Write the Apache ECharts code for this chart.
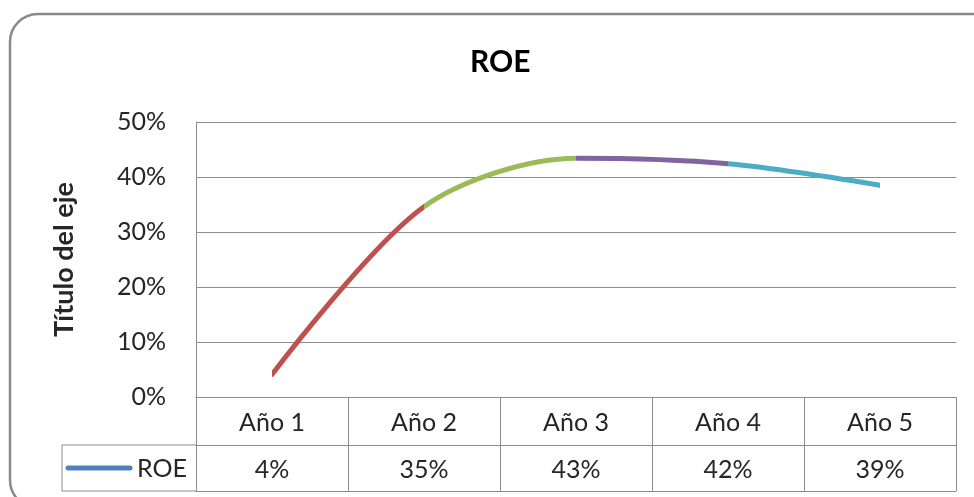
<!DOCTYPE html>
<html>
<head>
<meta charset="utf-8">
<title>ROE</title>
<script src="https://cdn.jsdelivr.net/npm/echarts@6/dist/echarts.min.js"></script>
<style>
  html, body { margin: 0; padding: 0; background: #ffffff; }
  #chart { width: 974px; height: 497px; }
</style>
</head>
<body>
<div id="chart"></div>
<script>
// Years shown along the horizontal axis / table header
const years = ['Año 1', 'Año 2', 'Año 3', 'Año 4', 'Año 5'];
// Return on equity per year, in percent
const roe = [4.1, 34.6, 43.4, 42.4, 38.5];
// Vertical axis ticks, in percent
const yTicks = [0, 10, 20, 30, 40, 50];
// Segment colours between consecutive years
const segmentColors = ['#C0504D', '#9BBB59', '#8064A2', '#4BACC6'];
const seriesName = 'ROE';
const legendColor = '#4F81BD';

const FONT = 'Lato, "Open Sans", sans-serif';
const GRID = { left: 196, right: 18, top: 122, bottom: 100 };
const ROW_H = 48;          // height of the header row of the data table
const TABLE_H = 94;        // total height of the data table
const LEGEND_CELL_X = 62;  // left edge of the series-name cell
const W = 974, H = 497;
const gridColor = '#8c8c8c';
const textColor = '#262626';

const chart = echarts.init(document.getElementById('chart'), null, { renderer: 'canvas' });

const axisBottom = H - GRID.bottom;
const rowY = axisBottom + ROW_H;
const tableBottom = axisBottom + TABLE_H;

const option = {
  animation: false,
  backgroundColor: '#ffffff',
  title: {
    text: seriesName,
    left: 470,
    top: 47,
    padding: 0,
    textStyle: { fontFamily: FONT, fontSize: 30, fontWeight: 'bold', color: '#000000' }
  },
  grid: GRID,
  visualMap: {
    type: 'piecewise',
    show: false,
    dimension: 0,
    seriesIndex: 0,
    pieces: segmentColors.map((c, i) => (
      i === segmentColors.length - 1
        ? { gte: i, lte: i + 1, color: c }
        : { gte: i, lt: i + 1, color: c }
    ))
  },
  xAxis: [
    {
      type: 'category',
      data: years,
      boundaryGap: true,
      axisLine: { show: true, lineStyle: { color: gridColor, width: 1 } },
      axisTick: { show: true, interval: 0, length: TABLE_H, lineStyle: { color: gridColor, width: 1 } },
      axisLabel: {
        interval: 0, margin: 26, verticalAlign: 'middle',
        fontFamily: FONT, fontSize: 25, color: textColor
      },
      splitLine: { show: false }
    },
    {
      type: 'category',
      data: years,
      position: 'bottom',
      offset: ROW_H,
      boundaryGap: true,
      axisLine: { show: true, lineStyle: { color: gridColor, width: 1 } },
      axisTick: { show: false },
      axisLabel: {
        interval: 0, margin: 25, verticalAlign: 'middle',
        fontFamily: FONT, fontSize: 25, color: textColor,
        formatter: (v, i) => Math.round(roe[i]) + '%'
      }
    },
    {
      type: 'category',
      data: years,
      position: 'bottom',
      offset: TABLE_H,
      boundaryGap: true,
      axisLine: { show: true, lineStyle: { color: gridColor, width: 1 } },
      axisTick: { show: false },
      axisLabel: { show: false }
    }
  ],
  yAxis: {
    type: 'value',
    min: yTicks[0],
    max: yTicks[yTicks.length - 1],
    interval: yTicks[1] - yTicks[0],
    name: 'Título del eje',
    nameLocation: 'middle',
    nameRotate: 90,
    nameGap: 118,
    nameTextStyle: { fontFamily: FONT, fontSize: 27, fontWeight: 'bold', color: textColor },
    axisLine: { show: true, lineStyle: { color: gridColor, width: 1 } },
    axisTick: { show: false },
    axisLabel: {
      margin: 30, fontFamily: FONT, fontSize: 25, color: textColor,
      formatter: '{value}%'
    },
    splitLine: { show: true, lineStyle: { color: gridColor, width: 1 } }
  },
  series: [
    {
      name: seriesName,
      type: 'line',
      xAxisIndex: 0,
      data: roe,
      smooth: 0.3,
      showSymbol: false,
      symbol: 'none',
      lineStyle: { width: 5, cap: 'round' }
    }
  ],
  graphic: [
    // outer chart frame with rounded corners
    {
      type: 'rect',
      shape: { x: 10, y: 14, width: 992, height: 494, r: 28 },
      style: { fill: 'none', stroke: '#8a8a8a', lineWidth: 2.5 },
      silent: true
    },
    // series-name cell of the data table
    {
      type: 'polyline',
      shape: { points: [[GRID.left, rowY], [LEGEND_CELL_X, rowY], [LEGEND_CELL_X, tableBottom], [GRID.left, tableBottom]] },
      style: { fill: 'none', stroke: gridColor, lineWidth: 1 },
      silent: true
    },
    {
      type: 'line',
      shape: { x1: 68, y1: (rowY + tableBottom) / 2, x2: 130, y2: (rowY + tableBottom) / 2 },
      style: { stroke: legendColor, lineWidth: 5, lineCap: 'round' },
      silent: true
    },
    {
      type: 'text',
      x: 137,
      y: (rowY + tableBottom) / 2 + 1,
      style: {
        text: seriesName, fontFamily: FONT, fontSize: 25, fill: textColor,
        textAlign: 'left', textVerticalAlign: 'middle'
      },
      silent: true
    }
  ]
};

chart.setOption(option);
</script>
</body>
</html>
